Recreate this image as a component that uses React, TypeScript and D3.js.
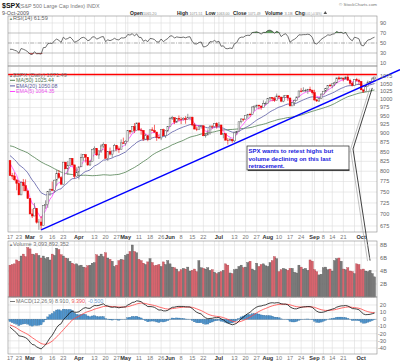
import * as d3 from "d3";

const FONT = "'Liberation Sans', Arial, Helvetica, sans-serif";

// closes before the visible range (Dec 1 2008 - Feb 13 2009), only used to warm up the indicators
const priorCloses = [
  816.21, 848.81, 870.74, 845.22, 876.07, 909.7, 888.67, 899.24, 873.59, 879.73, 868.57, 913.18, 904.42, 885.28, 887.88, 871.63, 863.16, 868.15, 872.8, 869.42, 890.64, 903.25,
  931.8, 927.45, 934.7, 906.65, 909.73, 890.35, 870.26, 871.79, 842.62, 843.74, 850.12, 805.22, 840.24, 827.5, 831.95, 836.57, 845.71, 874.09, 845.14, 825.88,
  825.44, 838.51, 832.23, 845.85, 868.6, 869.89, 827.16, 833.74, 835.19, 826.84,
];

// daily bars Feb 17 - Oct 9 2009 (open = previous close)
const closes = [
  789.17, 788.42, 778.94, 770.05, 743.33, 773.14, 764.9, 752.83, 735.09,
  700.82, 696.33, 712.87, 682.55, 683.38, 676.53, 719.6, 721.36, 750.74, 756.55, 753.89, 778.12, 794.35, 784.04, 768.54, 822.92, 806.12, 813.88, 832.86, 815.94, 787.53, 797.87,
  811.08, 834.38, 842.5, 835.48, 815.55, 825.16, 856.56, 858.73, 841.5, 852.06, 865.3, 869.6, 832.39, 850.08, 843.55, 851.92, 866.23, 857.51, 855.16, 873.64, 872.81,
  877.52, 907.24, 903.8, 919.53, 907.39, 929.23, 909.24, 908.35, 883.92, 893.07, 882.88, 909.71, 908.13, 903.47, 888.33, 887.0, 910.33, 893.06, 906.83, 919.14,
  942.87, 944.74, 931.76, 942.46, 940.09, 939.14, 942.43, 939.15, 944.89, 946.21, 923.72, 911.97, 910.71, 918.37, 921.23, 893.04, 895.1, 900.94, 920.26, 918.9, 927.23, 919.32,
  923.33, 896.42, 898.72, 881.03, 879.56, 882.68, 879.13, 901.05, 905.84, 932.68, 940.74, 940.38, 951.13, 954.58, 954.07, 976.29, 979.26, 982.18, 979.62, 975.15, 986.75, 987.48,
  1002.63, 1005.65, 1002.72, 997.08, 1010.48, 1007.1, 994.35, 1005.81, 1012.73, 1004.09, 979.73, 989.67, 996.46, 1007.37, 1026.13, 1025.57, 1028.0, 1028.12, 1030.98, 1028.93, 1020.62,
  998.04, 994.75, 1003.24, 1016.4, 1025.39, 1033.37, 1044.14, 1042.73, 1049.34, 1052.63, 1068.76, 1065.49, 1068.3, 1064.66, 1071.66, 1060.87, 1050.78, 1044.38, 1062.98, 1060.61, 1057.08,
  1029.85, 1025.21, 1040.46, 1054.72, 1057.58, 1065.48, 1071.49,
];
const highs = [
  827, 796, 797, 778, 778, 775, 781, 780, 752,
  735, 712, 725, 713, 690, 696, 720, 731, 752, 758, 775, 779, 803, 803, 788, 823, 823, 826, 833, 832, 815, 810,
  812, 845, 843, 843, 835, 828, 857, 864, 856, 853, 870, 875, 868, 851, 861, 852, 871, 867, 864, 883, 888,
  881, 908, 908, 920, 929, 930, 930, 915, 909, 898, 896, 910, 917, 924, 903, 896, 911, 913, 909, 920,
  947, 950, 945, 943, 951, 946, 946, 949, 956, 947, 947, 929, 919, 922, 922, 922, 899, 911, 922, 922, 928, 931,
  932, 924, 899, 899, 887, 887, 884, 902, 906, 933, 943, 941, 952, 956, 959, 979, 980, 983, 982, 977, 997, 993,
  1003, 1006, 1006, 1008, 1018, 1010, 1006, 1013, 1013, 1012, 1005, 991, 999, 1008, 1027, 1035, 1038, 1033, 1033, 1040, 1028,
  1030, 1001, 1004, 1018, 1026, 1036, 1045, 1049, 1050, 1056, 1069, 1074, 1071, 1067, 1073, 1080, 1066, 1056, 1065, 1069, 1066,
  1058, 1030, 1043, 1060, 1058, 1071, 1072,
];
const lows = [
  789, 780, 777, 754, 743, 745, 752, 752, 734,
  700, 692, 697, 680, 667, 667, 679, 712, 714, 741, 753, 749, 765, 781, 766, 768, 805, 791, 813, 814, 782, 787,
  780, 811, 826, 822, 814, 814, 825, 845, 839, 831, 847, 860, 832, 826, 840, 835, 853, 851, 847, 856, 871,
  866, 879, 897, 903, 901, 909, 907, 896, 879, 882, 878, 883, 906, 901, 879, 884, 881, 892, 887, 903,
  919, 938, 926, 929, 934, 926, 936, 927, 939, 937, 920, 911, 906, 909, 913, 892, 888, 896, 896, 913, 916, 913,
  919, 896, 886, 880, 869, 878, 874, 875, 896, 906, 928, 934, 940, 942, 948, 953, 965, 972, 969, 968, 976, 982,
  990, 995, 994, 992, 1001, 1001, 991, 991, 1004, 995, 979, 980, 980, 996, 1009, 1022, 1026, 1023, 1017, 1023, 1015,
  996, 992, 992, 1001, 1018, 1022, 1029, 1040, 1035, 1042, 1053, 1061, 1064, 1057, 1066, 1060, 1045, 1041, 1045, 1057, 1046,
  1029, 1020, 1025, 1041, 1048, 1058, 1063,
];
// billions of shares
const volumes = [
  4.9, 5.0, 5.1, 5.7, 5.5, 6.3, 6.6, 6.2, 7.6, 7.4,
  6.6, 6.5, 6.7, 6.4, 6.0, 6.3, 5.9, 6.1, 5.7, 6.6,
  6.4, 7.5, 7.3, 6.5, 6.3, 6.0, 5.9, 5.5, 5.2, 5.0,
  5.1, 4.8, 4.9, 4.6, 4.5, 4.8, 4.9, 5.2, 5.3, 6.5,
  6.3, 6.6, 6.2, 6.8, 6.0, 5.8, 5.5, 4.7, 4.9, 5.6,
  5.8, 5.7, 6.4, 6.6, 7.0, 8.0, 7.0, 6.8, 5.8, 5.6,
  5.2, 5.0, 5.4, 5.9, 5.3, 4.8, 4.9, 5.0, 4.7, 5.4,
  5.0, 5.6, 5.1, 4.6, 4.5, 4.3, 3.9, 4.2, 4.4, 4.3,
  4.6, 4.0, 4.1, 4.3, 3.9, 5.6, 4.5, 4.4, 4.3, 4.5,
  4.1, 4.2, 3.8, 3.6, 3.8, 3.9, 4.1, 5.1, 4.9, 3.7,
  3.6, 4.2, 4.3, 4.7, 4.9, 4.5, 4.6, 5.3, 5.5, 4.3,
  4.1, 5.2, 4.7, 5.0, 5.1, 4.8, 4.7, 5.3, 5.6, 6.2,
  5.9, 3.9, 4.2, 4.4, 4.3, 4.1, 4.4, 4.4, 3.8, 3.7,
  4.9, 4.6, 4.3, 4.4, 4.1, 5.7, 5.5, 4.2, 3.9, 3.4,
  3.5, 4.5, 4.6, 4.2, 4.3, 4.0, 5.6, 5.9, 6.0, 5.5,
  4.3, 4.2, 4.5, 4.0, 3.9, 3.6, 5.1, 5.0, 4.2, 4.3,
  4.0, 3.9, 4.1, 3.6, 3.1,
];

const holidays = ["2009-04-10", "2009-05-25", "2009-07-03", "2009-09-07"];
const firstDay = "2009-02-17";

const tickDates = [
  "2009-02-17", "2009-02-23", "2009-03-02", "2009-03-09", "2009-03-16", "2009-03-23", "2009-04-01", "2009-04-13",
  "2009-04-20", "2009-04-27", "2009-05-01", "2009-05-11", "2009-05-18", "2009-05-26", "2009-06-01", "2009-06-08",
  "2009-06-15", "2009-06-22", "2009-07-01", "2009-07-13", "2009-07-20", "2009-07-27", "2009-08-03", "2009-08-10",
  "2009-08-17", "2009-08-24", "2009-09-01", "2009-09-08", "2009-09-14", "2009-09-21", "2009-10-01",
];
const tickLabels = [
  "17", "23", "Mar", "9", "16", "23", "Apr", "13", "20", "27", "May", "11", "18", "26", "Jun", "8",
  "15", "22", "Jul", "13", "20", "27", "Aug", "10", "17", "24", "Sep", "8", "14", "21", "Oct",
];
const extraGridDates = ["2009-03-30", "2009-04-06", "2009-05-04", "2009-06-29", "2009-07-06", "2009-08-31", "2009-09-28"];

const priceTicks = [675, 700, 725, 750, 775, 800, 825, 850, 875, 900, 925, 950, 975, 1000, 1025, 1050, 1075];
const rsiTicks = [90, 70, 50, 30, 10];
const volTicks = [2, 4, 6, 8];
const macdTicks = [20, 10, 0, -10, -20, -30, -40];

const resistance = 1080;
const trendStart = { date: "2009-03-09", price: 667 };
const trendEnd = { date: "2009-10-09", price: 1058 };
const noteLines = ["SPX wants to retest highs but", "volume declining on this last", "retracement."];

// header quote: label, value
const quoteLabels = ["Open", "High", "Low", "Close", "Volume", "Chg"];
const quoteValues = ["1065.20", "1071.51", "1063.00", "1071.49", "3.1B", "+6.01 (+0.56%)"];

// ---- helpers
function tradingDays(start: string, n: number) {
  const fmt = d3.utcFormat("%Y-%m-%d");
  const out: string[] = [];
  let d = new Date(start + "T00:00:00Z");
  while (out.length < n) {
    const s = fmt(d);
    const wd = d.getUTCDay();
    if (wd !== 0 && wd !== 6 && !holidays.includes(s)) out.push(s);
    d = d3.utcDay.offset(d, 1);
  }
  return out;
}

function sma(arr: number[], p: number) {
  return arr.map((_, i) => (i < p - 1 ? NaN : (d3.mean(arr.slice(i - p + 1, i + 1)) as number)));
}

function ema(arr: number[], p: number) {
  const k = 2 / (p + 1);
  let e = arr[0];
  return arr.map((v, i) => (e = i === 0 ? v : v * k + e * (1 - k)));
}

function rsi(arr: number[], p: number) {
  const out = arr.map(() => NaN);
  let g = 0;
  let l = 0;
  for (let i = 1; i <= p; i++) {
    const d = arr[i] - arr[i - 1];
    if (d > 0) g += d;
    else l -= d;
  }
  g /= p;
  l /= p;
  out[p] = 100 - 100 / (1 + g / l);
  for (let i = p + 1; i < arr.length; i++) {
    const d = arr[i] - arr[i - 1];
    g = (g * (p - 1) + Math.max(d, 0)) / p;
    l = (l * (p - 1) + Math.max(-d, 0)) / p;
    out[i] = 100 - 100 / (1 + g / l);
  }
  return out;
}

export default function App() {
  const n0 = priorCloses.length;
  const all = priorCloses.concat(closes);
  const dates = tradingDays(firstDay, closes.length);
  const opens = closes.map((_, i) => (i === 0 ? priorCloses[n0 - 1] : closes[i - 1]));

  const ma50 = sma(all, 50).slice(n0);
  const ema20 = ema(all, 20).slice(n0);
  const ema5 = ema(all, 5).slice(n0);
  const rsi14 = rsi(all, 14).slice(n0);
  const macdAll = d3.zip(ema(all, 12), ema(all, 26)).map(([a, b]) => a - b);
  const sigAll = ema(macdAll, 9);
  const macd = macdAll.slice(n0);
  const signal = sigAll.slice(n0);
  const hist = macd.map((m, i) => m - signal[i]);

  const left = 8;
  const right = 377;
  const rsiP = { top: 16, bottom: 66 };
  const priceP = { top: 66, bottom: 232 };
  const volP = { top: 241, bottom: 297 };
  const macdP = { top: 297, bottom: 354 };

  const x = d3.scalePoint<string>().domain(dates).range([10, 374.5]);
  const step = x.step();
  const yP = d3.scaleLog().domain([675, 1075]).range([226, 76]);
  const yR = d3.scaleLinear().domain([10, 90]).range([63, 23]);
  const yV = d3.scaleLinear().domain([0, 8]).range([297, 245]);
  const yM = d3.scaleLinear().domain([-40, 20]).range([348, 305]);

  const X = (i: number) => x(dates[i]) as number;
  const priceLine = (arr: number[]) => d3.line<number>().x((_, i) => X(i)).y((v) => yP(v))(arr) || "";
  const rsiLine = d3.line<number>().x((_, i) => X(i)).y((v) => yR(v))(rsi14) || "";
  const rsiHigh = d3.area<number>().x((_, i) => X(i)).y0(yR(70)).y1((v) => yR(Math.max(v, 70)))(rsi14) || "";
  const rsiLow = d3.area<number>().x((_, i) => X(i)).y0(yR(30)).y1((v) => yR(Math.min(v, 30)))(rsi14) || "";
  const macdLine = d3.line<number>().x((_, i) => X(i)).y((v) => yM(v))(macd) || "";
  const sigLine = d3.line<number>().x((_, i) => X(i)).y((v) => yM(v))(signal) || "";

  const gridX = tickDates.concat(extraGridDates).map((d) => x(d) as number);

  // trend line through two anchors, extended to the image edge
  const tx1 = x(trendStart.date) as number;
  const ty1 = yP(trendStart.price);
  const tx2 = x(trendEnd.date) as number;
  const ty2 = yP(trendEnd.price);
  const slope = (ty2 - ty1) / (tx2 - tx1);
  const trendXEnd = 400;
  const trendYEnd = ty1 + slope * (trendXEnd - tx1);

  const panelFrame = (p: { top: number; bottom: number }) => (
    <rect x={left} y={p.top} width={right - left} height={p.bottom - p.top} fill="none" stroke="#8a8a8a" strokeWidth={0.6} />
  );
  const vGrid = (p: { top: number; bottom: number }, key: string) =>
    gridX.map((gx, i) => (
      <line key={key + i} x1={gx} x2={gx} y1={p.top} y2={p.bottom} stroke="#dcdcdc" strokeWidth={0.6} />
    ));
  const dateAxis = (y: number, key: string) =>
    tickDates.map((d, i) => {
      const isMonth = /[A-Za-z]/.test(tickLabels[i]);
      return (
        <text key={key + i} x={x(d) as number} y={y} textAnchor="middle" fontSize={5.6} fill={isMonth ? "#333" : "#777"} fontWeight={isMonth ? "bold" : "normal"}>
          {tickLabels[i]}
        </text>
      );
    });

  const arrowTop: [number, number] = [X(163), yP(1036)];
  const arrowElbow: [number, number] = [353, 149];
  const arrowBottom: [number, number] = [X(162), yV(5.6)];

  // quote line layout (label x, value x, value width)
  const quoteLayout = [
    [130, 143, 13.5], [177, 189.5, 13], [205.5, 216.5, 13], [233, 248, 12.5], [265, 284.5, 8], [295, 303.5, 18],
  ];

  return (
    <svg width={400} height={363} style={{ position: "absolute", left: 0, top: 0, background: "#fff" }} fontFamily={FONT}>
      <rect width={400} height={363} fill="#fff" />
      {/* header */}
      <text x={2} y={8} fontSize={7} fontWeight="bold" fill="#111">$SPX</text>
      <text x={19} y={8} fontSize={5.4} fill="#777">(S&amp;P 500 Large Cap Index) INDX</text>
      <text x={2} y={14.5} fontSize={5.4} fill="#555">9-Oct-2009</text>
      {quoteLabels.map((lab, i) => {
        const [lx, vx, vw] = quoteLayout[i];
        return (
          <g key={"q" + i}>
            <text x={lx} y={14.5} fontSize={5} fontWeight="bold" fill="#222">{lab}</text>
            <text x={vx} y={14.5} fontSize={4.3} fill="#888" textLength={vw} lengthAdjust="spacingAndGlyphs">{quoteValues[i]}</text>
          </g>
        );
      })}
      <path d="M323.5,14 L325.3,11 L327.1,14 Z" fill="#555" />
      <text x={377} y={6} fontSize={4.4} textAnchor="end" fill="#777">© StockCharts.com</text>

      {/* RSI panel */}
      {vGrid(rsiP, "rg")}
      {rsiTicks.map((t) => (
        <line key={"rt" + t} x1={left} x2={right} y1={yR(t)} y2={yR(t)}
          stroke={t === 50 ? "#777" : t === 70 || t === 30 ? "#9a9a9a" : "#dcdcdc"} strokeWidth={0.6}
          strokeDasharray={t === 50 ? "4,1.2,1,1.2" : undefined} />
      ))}
      <path d={rsiHigh} fill="#5f9a5f" />
      <path d={rsiLow} fill="#d06060" />
      <path d={rsiLine} fill="none" stroke="#333" strokeWidth={0.7} />
      {panelFrame(rsiP)}
      {rsiTicks.map((t) => (
        <text key={"rl" + t} x={380} y={yR(t)} dy="0.35em" fontSize={5.6} fill="#666">{t}</text>
      ))}
      <text x={9} y={20} fontSize={4} fill="#6a8a6a">▲</text>
      <text x={13} y={20} fontSize={5.6} fill="#666">RSI(14) 61.59</text>

      {/* price panel */}
      {vGrid(priceP, "pg")}
      {priceTicks.map((t) => (
        <line key={"pt" + t} x1={left} x2={right} y1={yP(t)} y2={yP(t)} stroke="#dcdcdc" strokeWidth={0.6} />
      ))}
      <path d={priceLine(ma50)} fill="none" stroke="#4f7f4f" strokeWidth={0.8} />
      <path d={priceLine(ema20)} fill="none" stroke="#5a5aa6" strokeWidth={0.8} />
      <path d={priceLine(ema5)} fill="none" stroke="#ff44ff" strokeWidth={0.8} />
      {closes.map((c, i) => {
        const o = opens[i];
        const hi = Math.max(highs[i], o, c);
        const lo = Math.min(lows[i], o, c);
        const down = c < o;
        const col = down ? "#ee0000" : "#555";
        const cx = X(i);
        const yTop = yP(Math.max(o, c));
        const yBot = yP(Math.min(o, c));
        return (
          <g key={"c" + i}>
            <line x1={cx} x2={cx} y1={yP(hi)} y2={yTop} stroke={col} strokeWidth={0.6} />
            <line x1={cx} x2={cx} y1={yBot} y2={yP(lo)} stroke={col} strokeWidth={0.6} />
            <rect x={cx - 0.85} y={yTop} width={1.7} height={Math.max(yBot - yTop, 0.5)} fill={down ? col : "#fff"} stroke={col} strokeWidth={0.5} />
          </g>
        );
      })}
      <line x1={left} x2={right} y1={yP(resistance)} y2={yP(resistance)} stroke="#ff0000" strokeWidth={1.3} />
      <line x1={tx1} y1={ty1} x2={trendXEnd} y2={trendYEnd} stroke="#0000ff" strokeWidth={1.4} />
      {panelFrame(priceP)}
      {priceTicks.map((t) => (
        <text key={"pl" + t} x={380} y={yP(t)} dy="0.35em" fontSize={5.6} fill="#666">{t}</text>
      ))}
      <text x={9} y={76.5} fontSize={4} fill="#777">▲</text>
      <text x={13} y={76.5} fontSize={5.6} fill="#777">$SPX (Daily) 1071.49</text>
      {[
        { t: "MA(50) 1025.44", c: "#4f7f4f", tc: "#557755" },
        { t: "EMA(20) 1050.08", c: "#5a5aa6", tc: "#5a5a99" },
        { t: "EMA(5) 1064.35", c: "#ff44ff", tc: "#ee55ee" },
      ].map((r, i) => (
        <g key={"lg" + i}>
          <line x1={10} x2={15} y1={80.3 + i * 5.6} y2={80.3 + i * 5.6} stroke={r.c} strokeWidth={1} />
          <text x={16} y={82.2 + i * 5.6} fontSize={5.3} fill={r.tc}>{r.t}</text>
        </g>
      ))}
      {dateAxis(239, "pd")}

      {/* annotation */}
      <polyline points={[arrowTop, arrowElbow, arrowBottom].map((p) => [p[0] - 2.5, p[1] + 0.5].join(",")).join(" ")} fill="none" stroke="#999" strokeWidth={0.6} />
      <polyline points={[arrowTop, arrowElbow, arrowBottom].map((p) => p.join(",")).join(" ")} fill="none" stroke="#111" strokeWidth={0.8} />
      <rect x={247} y={146} width={102} height={24} fill="#fff" stroke="#222" strokeWidth={0.7} />
      <line x1={248} x2={349.5} y1={170.2} y2={170.2} stroke="#000" strokeWidth={0.9} />
      {noteLines.map((t, i) => (
        <text key={"n" + i} x={248.5} y={153.3 + i * 7.4} fontSize={6} fontWeight="bold" fill="#2020dd">{t}</text>
      ))}

      {/* volume panel */}
      {vGrid(volP, "vg")}
      {volTicks.map((t) => (
        <line key={"vt" + t} x1={left} x2={right} y1={yV(t)} y2={yV(t)} stroke="#dcdcdc" strokeWidth={0.6} />
      ))}
      {volumes.map((v, i) => {
        const down = closes[i] < opens[i];
        return (
          <rect key={"v" + i} x={X(i) - 1.05} y={yV(v)} width={2.1} height={yV(0) - yV(v)}
            fill={down ? "#d8646e" : "#7a7a7a"} stroke={down ? "#a84048" : "#555"} strokeWidth={0.35} />
        );
      })}
      {panelFrame(volP)}
      {volTicks.map((t) => (
        <text key={"vl" + t} x={380} y={yV(t)} dy="0.35em" fontSize={5.6} fill="#666">{t}B</text>
      ))}
      <text x={9} y={246} fontSize={4} fill="#777">▲</text>
      <text x={13} y={246} fontSize={5.6} fill="#777">Volume 3,093,892,352</text>

      {/* MACD panel */}
      {vGrid(macdP, "mg")}
      {macdTicks.map((t) => (
        <line key={"mt" + t} x1={left} x2={right} y1={yM(t)} y2={yM(t)} stroke={t === 0 ? "#aaa" : "#dcdcdc"} strokeWidth={0.6} />
      ))}
      {hist.map((h, i) => (
        <rect key={"hb" + i} x={X(i) - step / 2} y={Math.min(yM(h), yM(0))} width={step} height={Math.abs(yM(h) - yM(0))}
          fill="#4f94cd" stroke="#2f6a9a" strokeWidth={0.3} />
      ))}
      <path d={sigLine} fill="none" stroke="#ff4444" strokeWidth={0.8} />
      <path d={macdLine} fill="none" stroke="#111" strokeWidth={0.8} />
      {panelFrame(macdP)}
      {macdTicks.map((t) => (
        <text key={"ml" + t} x={386} y={yM(t)} dy="0.35em" textAnchor="end" fontSize={5.6} fill="#666">{t}</text>
      ))}
      <line x1={10} x2={15} y1={301.5} y2={301.5} stroke="#555" strokeWidth={0.8} />
      <text x={16} y={303.2} fontSize={5.4}>
        <tspan fill="#777">MACD(12,26,9) 8.910, </tspan>
        <tspan fill="#ee5555">9.390, </tspan>
        <tspan fill="#6a9ad0">-0.500</tspan>
      </text>
      {dateAxis(360, "md")}
    </svg>
  );
}
